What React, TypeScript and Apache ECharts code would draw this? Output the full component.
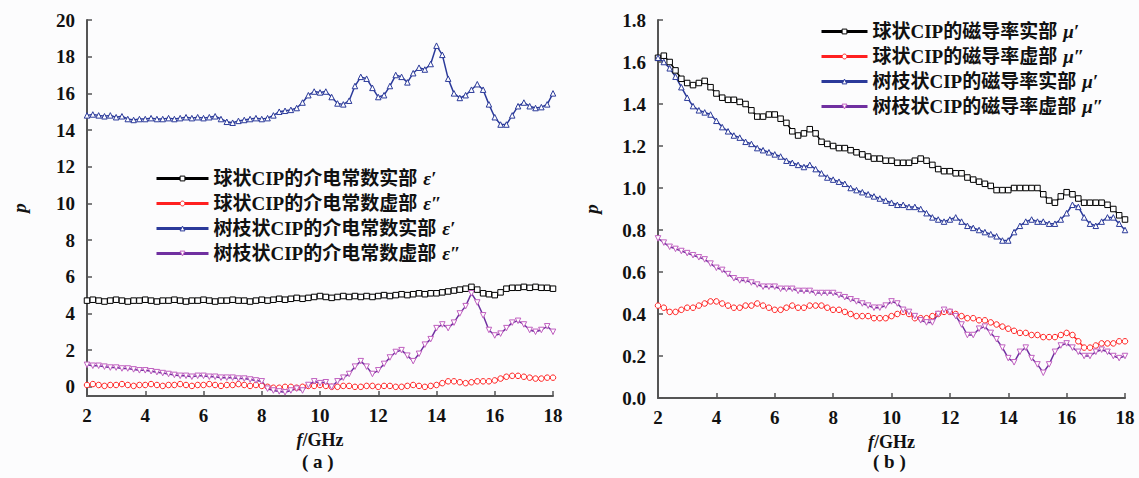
import React, { useEffect, useRef } from "react";
import * as echarts from "echarts";

const FREQ = [
  2.0, 2.2, 2.4, 2.6, 2.8, 3.0, 3.2, 3.4, 3.6, 3.8, 4.0, 4.2, 4.4, 4.6, 4.8, 5.0, 5.2, 5.4, 5.6, 5.8,
  6.0, 6.2, 6.4, 6.6, 6.8, 7.0, 7.2, 7.4, 7.6, 7.8, 8.0, 8.2, 8.4, 8.6, 8.8, 9.0, 9.2, 9.4, 9.6, 9.8,
  10.0, 10.2, 10.4, 10.6, 10.8, 11.0, 11.2, 11.4, 11.6, 11.8, 12.0, 12.2, 12.4, 12.6, 12.8, 13.0, 13.2,
  13.4, 13.6, 13.8, 14.0, 14.2, 14.4, 14.6, 14.8, 15.0, 15.2, 15.4, 15.6, 15.8, 16.0, 16.2, 16.4, 16.6,
  16.8, 17.0, 17.2, 17.4, 17.6, 17.8, 18.0,
];

// (a) permittivity
const EPS_RE_SPH = [
  4.7, 4.75, 4.7, 4.65, 4.7, 4.75, 4.7, 4.65, 4.7, 4.7, 4.75, 4.7, 4.65, 4.7, 4.7, 4.75, 4.7, 4.65, 4.7, 4.7,
  4.75, 4.7, 4.65, 4.7, 4.7, 4.75, 4.7, 4.7, 4.65, 4.7, 4.75, 4.7, 4.75, 4.8, 4.75, 4.8, 4.85, 4.8, 4.85, 4.9,
  4.95, 4.9, 4.85, 4.9, 4.95, 4.9, 4.95, 4.9, 4.95, 4.9, 4.95, 5.0, 4.95, 5.0, 5.05, 5.0, 5.05, 5.1, 5.05, 5.1,
  5.1, 5.15, 5.2, 5.25, 5.3, 5.35, 5.45, 5.3, 5.1, 5.05, 5.0, 5.15, 5.35, 5.4, 5.4, 5.45, 5.4, 5.45, 5.4, 5.4,
  5.35,
];
const EPS_IM_SPH = [
  0.1, 0.15, 0.1, 0.05, 0.1, 0.1, 0.15, 0.1, 0.05, 0.1, 0.1, 0.15, 0.1, 0.05, 0.1, 0.1, 0.15, 0.1, 0.05, 0.1,
  0.1, 0.15, 0.1, 0.05, 0.1, 0.1, 0.15, 0.1, 0.05, 0.1, 0.05, 0.0, -0.05, -0.05, 0.0, 0.0, -0.05, 0.0, 0.05, 0.05,
  0.1, 0.05, 0.0, 0.0, 0.05, 0.05, 0.0, 0.0, 0.05, 0.05, 0.0, 0.05, 0.05, 0.0, 0.0, 0.05, 0.1, 0.05, 0.0, 0.05,
  0.1, 0.2, 0.3, 0.3, 0.25, 0.2, 0.25, 0.3, 0.3, 0.3, 0.35, 0.45, 0.55, 0.6, 0.6, 0.55, 0.5, 0.45, 0.45, 0.5,
  0.5,
];
const EPS_RE_DEN = [
  14.8, 14.85, 14.8, 14.75, 14.8, 14.7, 14.75, 14.6, 14.55, 14.6, 14.6, 14.65, 14.6, 14.6, 14.65, 14.6, 14.65,
  14.7, 14.65, 14.7, 14.65, 14.7, 14.75, 14.6, 14.45, 14.4, 14.5, 14.55, 14.6, 14.65, 14.6, 14.65, 14.8, 15.0,
  15.05, 15.1, 15.2, 15.5, 15.9, 16.1, 16.05, 16.1, 15.8, 15.45, 15.4, 15.6, 16.4, 16.9, 16.8, 16.3, 15.8, 15.9,
  16.4, 17.0, 16.9, 16.6, 17.1, 17.4, 17.3, 17.6, 18.6, 18.1, 16.8, 16.0, 15.75, 15.9, 16.2, 16.5, 16.2, 15.4,
  14.7, 14.3, 14.3, 14.8, 15.3, 15.5, 15.3, 15.2, 15.25, 15.4, 16.0,
];
const EPS_IM_DEN = [
  1.2, 1.15, 1.15, 1.1, 1.05, 1.05, 1.0, 1.0, 0.95, 0.9, 0.9, 0.85, 0.8, 0.75, 0.7, 0.65, 0.6, 0.6, 0.55, 0.6,
  0.6, 0.55, 0.55, 0.5, 0.5, 0.5, 0.45, 0.45, 0.4, 0.35, 0.3, -0.1, -0.2, -0.25, -0.3, -0.2, -0.1, -0.2, 0.1, 0.3,
  0.2, 0.25, 0.0, 0.3, 0.5, 0.7, 1.1, 1.4, 1.1, 0.7, 0.9, 1.25, 1.6, 1.9, 2.0, 1.7, 1.4, 1.8, 2.3, 2.6,
  3.2, 3.4, 3.2, 3.5, 4.0, 4.4, 5.1, 4.6, 3.9, 3.1, 2.8, 2.9, 3.2, 3.5, 3.6, 3.4, 3.1, 3.0, 3.1, 3.3,
  3.0,
];

// (b) permeability
const MU_RE_SPH = [
  1.62, 1.63, 1.6, 1.56, 1.52, 1.5, 1.49, 1.5, 1.51, 1.48, 1.45, 1.43, 1.42, 1.42, 1.41, 1.4, 1.37, 1.34, 1.34,
  1.35, 1.35, 1.33, 1.31, 1.27, 1.25, 1.26, 1.28, 1.26, 1.22, 1.21, 1.2, 1.19, 1.19, 1.18, 1.17, 1.16, 1.15,
  1.14, 1.14, 1.13, 1.13, 1.12, 1.12, 1.12, 1.13, 1.14, 1.13, 1.11, 1.09, 1.08, 1.08, 1.07, 1.07, 1.05, 1.04,
  1.03, 1.02, 1.01, 0.99, 0.99, 0.99, 1.0, 1.0, 1.0, 1.0, 1.0, 0.97, 0.94, 0.93, 0.96, 0.98, 0.97, 0.95, 0.93,
  0.93, 0.93, 0.93, 0.92, 0.9, 0.87, 0.85,
];
const MU_IM_SPH = [
  0.44, 0.43, 0.41, 0.41, 0.42, 0.43, 0.43, 0.44, 0.45, 0.46, 0.46, 0.45, 0.44, 0.43, 0.43, 0.44, 0.44, 0.45,
  0.44, 0.43, 0.42, 0.42, 0.43, 0.44, 0.43, 0.43, 0.44, 0.44, 0.44, 0.43, 0.42, 0.42, 0.41, 0.4, 0.39, 0.39,
  0.39, 0.38, 0.38, 0.38, 0.39, 0.4, 0.41, 0.4, 0.38, 0.38, 0.38, 0.39, 0.4, 0.41, 0.41, 0.4, 0.39, 0.38, 0.38,
  0.37, 0.37, 0.36, 0.35, 0.34, 0.33, 0.32, 0.31, 0.31, 0.3, 0.3, 0.29, 0.29, 0.29, 0.3, 0.31, 0.3, 0.27, 0.24,
  0.24, 0.25, 0.26, 0.26, 0.26, 0.27, 0.27,
];
const MU_RE_DEN = [
  1.62, 1.6, 1.57, 1.53, 1.48, 1.43, 1.39, 1.37, 1.36, 1.35, 1.32, 1.29, 1.27, 1.25, 1.24, 1.22, 1.21, 1.19,
  1.18, 1.17, 1.16, 1.15, 1.13, 1.12, 1.11, 1.1, 1.11, 1.09, 1.07, 1.05, 1.04, 1.03, 1.02, 1.0, 0.99, 0.98,
  0.97, 0.96, 0.95, 0.94, 0.93, 0.92, 0.92, 0.91, 0.91, 0.9, 0.88, 0.86, 0.85, 0.84, 0.85, 0.86, 0.84, 0.82,
  0.81, 0.8, 0.79, 0.78, 0.77, 0.75, 0.75, 0.79, 0.82, 0.84, 0.85, 0.84, 0.84, 0.83, 0.83, 0.85, 0.88, 0.92,
  0.91, 0.86, 0.83, 0.82, 0.84, 0.86, 0.86, 0.83, 0.8,
];
const MU_IM_DEN = [
  0.76, 0.74, 0.72, 0.71, 0.7, 0.69, 0.68, 0.67, 0.66, 0.64, 0.62, 0.61, 0.59, 0.57, 0.56, 0.56, 0.55, 0.54,
  0.53, 0.53, 0.53, 0.52, 0.52, 0.52, 0.51, 0.51, 0.51, 0.5, 0.5, 0.5, 0.5, 0.49, 0.48, 0.47, 0.46, 0.45, 0.44,
  0.43, 0.43, 0.44, 0.46, 0.45, 0.42, 0.41, 0.39, 0.37, 0.36, 0.36, 0.4, 0.42, 0.41, 0.39, 0.35, 0.3, 0.3, 0.33,
  0.34, 0.31, 0.28, 0.24, 0.19, 0.17, 0.22, 0.24, 0.19, 0.16, 0.12, 0.16, 0.22, 0.25, 0.26, 0.24, 0.22, 0.2,
  0.2, 0.22, 0.23, 0.22, 0.2, 0.19, 0.2,
];

const NAMES_A = [
  "球状CIP的介电常数实部",
  "球状CIP的介电常数虚部",
  "树枝状CIP的介电常数实部",
  "树枝状CIP的介电常数虚部",
];
const SYM_A = ["ε′", "ε″", "ε′", "ε″"];
const NAMES_B = [
  "球状CIP的磁导率实部",
  "球状CIP的磁导率虚部",
  "树枝状CIP的磁导率实部",
  "树枝状CIP的磁导率虚部",
];
const SYM_B = ["μ′", "μ″", "μ′", "μ″"];

const Y_TICKS_A = [0, 2, 4, 6, 8, 10, 12, 14, 16, 18, 20];

const SERIF = "'Liberation Serif', 'Times New Roman', 'Noto Sans CJK SC', serif";
const AXIS_COLOR = "#555";
const COLORS = ["#000000", "#ff2020", "#2b3a9a", "#7030a0"];
const BORDERS = ["#000000", "#ff2020", "#2b3a9a", "#c060c0"];
const SYMBOLS = ["rect", "circle", "triangle", "triangle"];
const ROT = [0, 0, 0, 180];

function makeSeries(name: string, vals: number[], k: number, grid: number) {
  return {
    type: "line",
    name,
    xAxisIndex: grid,
    yAxisIndex: grid,
    data: FREQ.map((f, i) => [f, vals[i]]),
    symbol: SYMBOLS[k],
    symbolRotate: ROT[k],
    symbolSize: 5.5,
    showAllSymbol: true,
    lineStyle: { color: COLORS[k], width: 1.5 },
    itemStyle: { color: "#ffffff", borderColor: BORDERS[k], borderWidth: 1 },
    emphasis: { disabled: true },
    z: 2,
  };
}

function axisCommon() {
  return {
    axisLine: { show: true, onZero: false, lineStyle: { color: AXIS_COLOR, width: 2 } },
    axisTick: { show: true, inside: true, length: 5, lineStyle: { color: AXIS_COLOR, width: 1.5 } },
    splitLine: { show: false },
    axisLabel: { color: "#111", fontFamily: SERIF, fontWeight: "bold", fontSize: 19 },
  };
}

const richName = {
  i: { fontFamily: SERIF, fontStyle: "italic", fontWeight: "bold", fontSize: 18, color: "#111" },
  n: { fontFamily: SERIF, fontWeight: "bold", fontSize: 18, color: "#111" },
};

function xAxis(grid: number) {
  const c = axisCommon();
  return {
    ...c,
    type: "value",
    gridIndex: grid,
    min: 2,
    max: 18,
    interval: 2,
    axisLabel: { ...c.axisLabel, margin: 10 },
    name: "{i|f}{n|/GHz}",
    nameLocation: "middle",
    nameGap: 35,
    nameTextStyle: { rich: richName },
  };
}

function legend(names: string[], syms: string[], left: number, top: number, itemWidth: number) {
  const map: Record<string, string> = {};
  names.forEach((n, i) => (map[n] = syms[i]));
  return {
    data: names,
    orient: "vertical",
    left,
    top,
    itemGap: 6,
    itemWidth,
    itemHeight: 6,
    selectedMode: false,
    lineStyle: { width: 3 },
    itemStyle: { color: "#ffffff", borderWidth: 1 },
    formatter: (n: string) => `{t|${n}}  {e|${map[n]}}`,
    textStyle: {
      rich: {
        t: { fontFamily: SERIF, fontWeight: "bold", fontSize: 19, color: "#111", lineHeight: 21 },
        e: { fontFamily: SERIF, fontWeight: "bold", fontStyle: "italic", fontSize: 19, color: "#111", lineHeight: 21 },
      },
    },
  };
}

export default function App() {
  const ref = useRef<HTMLDivElement>(null);
  useEffect(() => {
    if (!ref.current) return;
    const chart = echarts.init(ref.current, undefined, { renderer: "svg" });
    const ca = axisCommon();
    const cb = axisCommon();
    chart.setOption({
      animation: false,
      backgroundColor: "#fcfcfd",
      textStyle: { fontFamily: SERIF },
      grid: [
        { left: 87, top: 20, width: 466, height: 376 },
        { left: 658, top: 20, width: 467, height: 378 },
      ],
      xAxis: [xAxis(0), xAxis(1)],
      yAxis: [
        {
          ...ca,
          type: "value",
          gridIndex: 0,
          min: -0.5,
          max: 20,
          axisTick: { ...ca.axisTick, customValues: Y_TICKS_A },
          axisLabel: { ...ca.axisLabel, margin: 12, customValues: Y_TICKS_A },
          name: "p",
          nameLocation: "middle",
          nameGap: 58,
          nameTextStyle: { fontFamily: SERIF, fontStyle: "italic", fontWeight: "bold", fontSize: 19, color: "#111" },
        },
        {
          ...cb,
          type: "value",
          gridIndex: 1,
          min: 0,
          max: 1.8,
          interval: 0.2,
          axisLabel: { ...cb.axisLabel, margin: 12, formatter: (v: number) => v.toFixed(1) },
          name: "p",
          nameLocation: "middle",
          nameGap: 57,
          nameTextStyle: { fontFamily: SERIF, fontStyle: "italic", fontWeight: "bold", fontSize: 19, color: "#111" },
        },
      ],
      legend: [legend(NAMES_A, SYM_A, 150, 164, 52), legend(NAMES_B, SYM_B, 815, 17, 46)],
      series: [
        makeSeries(NAMES_A[0], EPS_RE_SPH, 0, 0),
        makeSeries(NAMES_A[1], EPS_IM_SPH, 1, 0),
        makeSeries(NAMES_A[2], EPS_RE_DEN, 2, 0),
        makeSeries(NAMES_A[3], EPS_IM_DEN, 3, 0),
        makeSeries(NAMES_B[0], MU_RE_SPH, 0, 1),
        makeSeries(NAMES_B[1], MU_IM_SPH, 1, 1),
        makeSeries(NAMES_B[2], MU_RE_DEN, 2, 1),
        makeSeries(NAMES_B[3], MU_IM_DEN, 3, 1),
      ],
      graphic: [
        {
          type: "text",
          left: 320 - 18,
          top: 452,
          style: { text: "( a )", font: `bold 19px ${SERIF}`, fill: "#111" },
        },
        {
          type: "text",
          left: 891 - 18,
          top: 452,
          style: { text: "( b )", font: `bold 19px ${SERIF}`, fill: "#111" },
        },
      ],
    });
    return () => chart.dispose();
  }, []);
  return (
    <div
      ref={ref}
      style={{ position: "fixed", left: 0, top: 0, width: 1139, height: 478 }}
    />
  );
}
